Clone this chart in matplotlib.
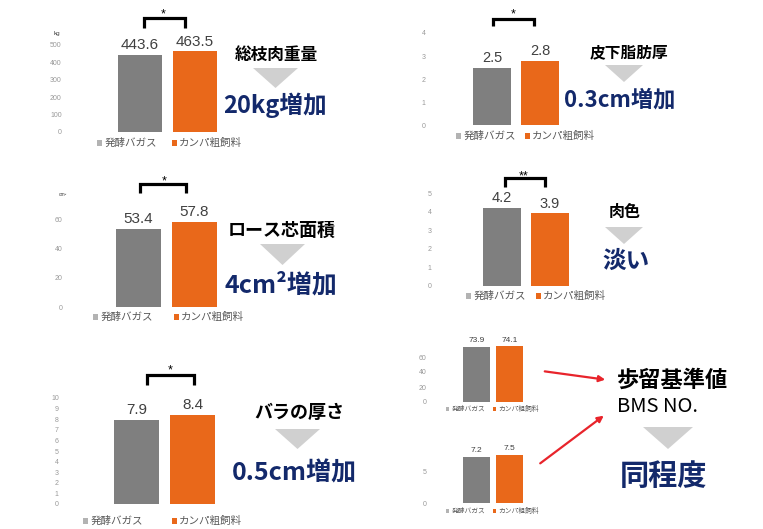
import matplotlib
matplotlib.use("Agg")
import matplotlib.pyplot as plt
from matplotlib.patches import Polygon, Rectangle, FancyArrowPatch

plt.rcParams["font.family"] = ["Noto Sans CJK JP", "DejaVu Sans"]

# data -------------------------------------------------------------
groups = ["発酵バガス", "カンパ粗飼料"]
carcass_weight = [443.6, 463.5]
backfat = [2.5, 2.8]
ribeye_area = [53.4, 57.8]
meat_color = [4.2, 3.9]
rib_thickness = [7.9, 8.4]
yield_std = [73.9, 74.1]
bms_no = [7.2, 7.5]

ticks_weight = [0, 100, 200, 300, 400, 500]
ticks_backfat = [0, 1, 2, 3, 4]
ticks_ribeye = [0, 20, 40, 60]
ticks_color = [0, 1, 2, 3, 4, 5]
ticks_rib = list(range(0, 11))
ticks_yield = [0, 20, 40, 60]
ticks_bms = [0, 5]

# styles -------------------------------------------------------------
W, H = 763, 529
GRAY = "#7f7f7f"
ORANGE = "#e9681a"
LEG_GRAY = "#b3b3b3"
NAVY = "#13296b"
TRI = "#d0d0d0"
NUM_FONT = ["Liberation Sans", "DejaVu Sans"]

fig = plt.figure(figsize=(W / 100, H / 100), dpi=100)


def fx(x):
    return x / W


def fy(y):
    return 1 - y / H


def panel(vals, ticks, rect, xc, barw, legend, val_size=11, leg_size=7.6,
          tick_size=5, bracket=None, star=None, unit=None):
    left, top, right, base = rect
    s = xc[1] - xc[0]
    ax = fig.add_axes([fx(left), fy(base), (right - left) / W, (base - top) / H])
    ax.set_xlim((left - xc[0]) / s, (right - xc[0]) / s)
    ax.set_ylim(0, ticks[-1])
    bars = ax.bar([0, 1], vals, width=barw / s, color=[GRAY, ORANGE], clip_on=False)
    for b, v in zip(bars, vals):
        ax.annotate(f"{v:.1f}", (b.get_x() + b.get_width() / 2, v), xytext=(0, 2),
                    textcoords="offset points", ha="center", va="bottom",
                    fontsize=val_size, color="#404040", family=NUM_FONT,
                    annotation_clip=False)
    ax.set_yticks(ticks)
    ax.set_yticklabels([str(t) for t in ticks], fontsize=tick_size, color="#999999",
                       family=NUM_FONT)
    ax.tick_params(axis="y", length=0, pad=3)
    ax.set_xticks([])
    for sp in ax.spines.values():
        sp.set_visible(False)
    ax.patch.set_alpha(0)

    def to_data(ypx):
        return (base - ypx) / (base - top) * ticks[-1]

    if bracket:
        bx0, bx1, by0, by1 = bracket
        xs = [(bx0 - xc[0]) / s, (bx0 - xc[0]) / s, (bx1 - xc[0]) / s, (bx1 - xc[0]) / s]
        ys = [to_data(by1), to_data(by0), to_data(by0), to_data(by1)]
        ax.plot(xs, ys, color="black", lw=2.3, clip_on=False,
                solid_joinstyle="miter", solid_capstyle="butt")
    if star:
        sx, sy, txt = star
        fig.text(fx(sx), fy(sy + 4), txt, ha="center", va="baseline", fontsize=9,
                 family=NUM_FONT, color="black")
    if unit:
        ux, uy, ut, us = unit
        fig.text(fx(ux), fy(uy), ut, ha="center", va="center", fontsize=us,
                 family=NUM_FONT, color="#404040")

    ly, gx, ox = legend
    sq = leg_size * 0.68
    for x0, col, name in [(gx, LEG_GRAY, groups[0]), (ox, ORANGE, groups[1])]:
        fig.add_artist(Rectangle((fx(x0), fy(ly + sq / 2)), sq / W, sq / H,
                                 transform=fig.transFigure, color=col, lw=0))
        fig.text(fx(x0 + sq + 2), fy(ly), name, ha="left", va="center",
                 fontsize=leg_size, color="#595959")
    return ax


panel(carcass_weight, ticks_weight, (66, 45, 232, 132), (139.7, 194.7), 44,
      (143, 97, 172), bracket=(144, 185, 18.5, 28), star=(163, 13, "*"),
      unit=(57, 33, "kg", 4.5))
panel(backfat, ticks_backfat, (430, 33, 590, 125.5), (492, 540), 38,
      (136, 456, 525), val_size=10.5, bracket=(493, 534, 19, 26), star=(513, 13, "*"))
panel(ribeye_area, ticks_ribeye, (67, 219, 230, 307), (138.5, 194.5), 45,
      (317, 93, 174), bracket=(140, 186, 183.5, 193), star=(164, 180, "*"),
      unit=(63, 194, "cm²", 3.5))
panel(meat_color, ticks_color, (436, 193, 590, 286), (502, 550), 38,
      (296, 466, 536), val_size=10.5, bracket=(505, 545, 178, 187), star=(524, 175, "**"))
panel(rib_thickness, ticks_rib, (63, 398, 230, 504), (136.5, 192.5), 45,
      (521, 83, 172), bracket=(147, 194, 374.5, 385), star=(170, 369, "*"))
panel(yield_std, ticks_yield, (431, 357, 560, 402), (476.5, 509.5), 27,
      (409, 446, 493), val_size=6, leg_size=4.9)
panel(bms_no, ticks_bms, (431, 471, 560, 503), (476.5, 509.5), 27,
      (511, 446, 493), val_size=6, leg_size=4.9)

# annotation texts --------------------------------------------------
labels = [
    ("総枝肉重量", 276, 55, 12, "black"),
    ("20kg増加", 275, 105, 17, NAVY),
    ("皮下脂肪厚", 629, 52, 11.3, "black"),
    ("0.3cm増加", 620, 100, 16, NAVY),
    ("ロース芯面積", 282, 230, 13, "black"),
    ("4cm²増加", 281, 285, 18, NAVY),
    ("肉色", 624.5, 212, 11.5, "black"),
    ("淡い", 626.5, 261, 17, NAVY),
    ("バラの厚さ", 299, 412, 13, "black"),
    ("0.5cm増加", 294, 473, 18, NAVY),
    ("同程度", 663.5, 476, 21, NAVY),
]
for txt, x, y, size, col in labels:
    fig.text(fx(x), fy(y), txt, ha="center", va="center", fontsize=size,
             color=col, fontweight="bold")
fig.text(fx(617), fy(380), "歩留基準値", ha="left", va="center", fontsize=16,
         color="black", fontweight="bold")
fig.text(fx(617), fy(407), "BMS NO.", ha="left", va="center", fontsize=14.5,
         color="black")

# down triangles: (centre x, top y, bottom y, half width)
triangles = [(275.5, 68, 88, 22.5), (624, 65, 82, 19), (282.5, 244, 265, 22.5),
             (624, 227, 244, 19), (297.5, 429, 449, 22.5), (668, 427, 449, 25)]
for cx, ty, by, hw in triangles:
    fig.add_artist(Polygon([(fx(cx - hw), fy(ty)), (fx(cx + hw), fy(ty)), (fx(cx), fy(by))],
                           closed=True, transform=fig.transFigure, color=TRI, lw=0))

# red arrows
for (x0, y0), (x1, y1) in [((542, 371), (608, 380)), ((538, 465), (606, 414))]:
    fig.add_artist(FancyArrowPatch((fx(x0), fy(y0)), (fx(x1), fy(y1)),
                                   transform=fig.transFigure, arrowstyle="-|>",
                                   mutation_scale=9, color="#e8242b", lw=1.6))

fig.savefig("out.png", dpi=100)
